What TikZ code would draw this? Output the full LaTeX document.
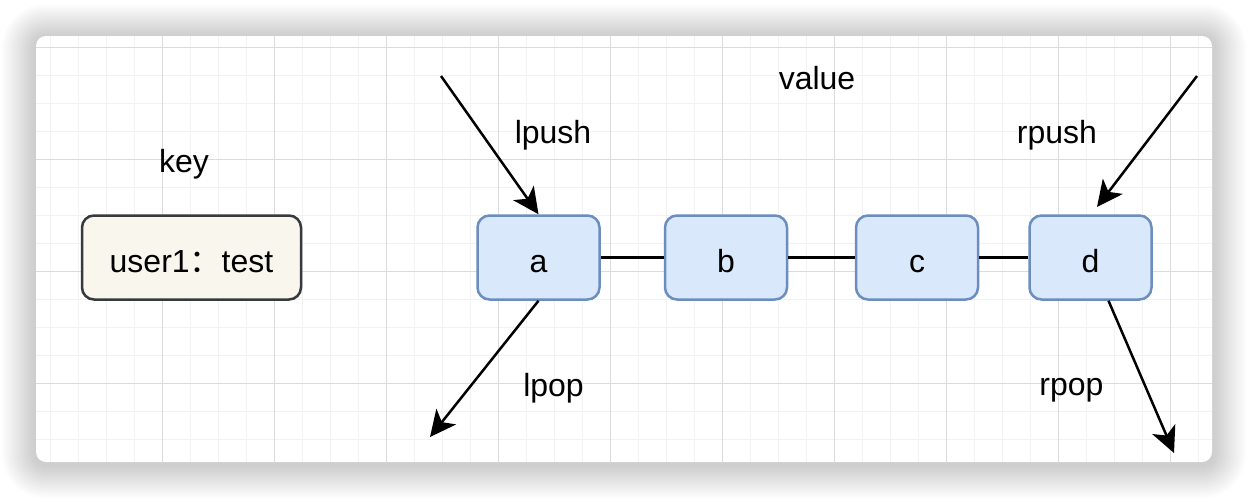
\documentclass[tikz,border=0pt]{standalone}
\usepackage{fontspec}
\setmainfont{Liberation Sans}
\newfontfamily\cjk{Noto Sans CJK SC}
\usepackage{xcolor}
\usetikzlibrary{arrows.meta,calc}
\definecolor{gridminor}{HTML}{F2F2F2}
\definecolor{gridmajor}{HTML}{DCDCDC}
\definecolor{keyfill}{HTML}{F9F7ED}
\definecolor{keyline}{HTML}{36393D}
\definecolor{valfill}{HTML}{DAE8FC}
\definecolor{valline}{HTML}{6C8EBF}
\tikzset{
  card/.style={fill=white, rounded corners=10pt},
  minor/.style={draw=gridminor, line width=1pt},
  major/.style={draw=gridmajor, line width=1pt},
  keybox/.style={draw=keyline, fill=keyfill, line width=2.5pt, rounded corners=12pt,
    minimum width=219pt, minimum height=84pt, text height=29pt, text depth=0pt},
  valbox/.style={draw=valline, fill=valfill, line width=2.5pt, rounded corners=12pt,
    minimum width=122pt, minimum height=84pt, text height=29pt, text depth=0pt},
  link/.style={draw=black, line width=2.5pt},
  arr/.style={draw=black, line width=2.5pt, -{Stealth[length=26pt,width=25pt,inset=7pt]}},
  lab/.style={text=black, font=\fontsize{32}{38}\selectfont},
}

\begin{document}
\begin{tikzpicture}[x=1pt,y=-1pt]
  \useasboundingbox (0,0) rectangle (1248,498);

  % soft shadow of the card
  \foreach \i [evaluate=\i as \r using 10+2*\i] in {1,...,17}
    \fill[black, opacity=0.013, rounded corners=\r pt]
      ({36-2*\i},{38-2*\i}) rectangle ({1212+2*\i},{464+2*\i});
  \fill[card] (36,36) rectangle (1212,462);

  % grid
  \begin{scope}
    \clip[rounded corners=10pt] (36,36) rectangle (1212,462);
    \foreach \x in {50,78,...,1198} \draw[minor] (\x,36) -- (\x,462);
    \foreach \y in {47,75,...,439} \draw[minor] (36,\y) -- (1212,\y);
    \foreach \x in {162,274,...,1170} \draw[major] (\x,36) -- (\x,462);
    \foreach \y in {47,159,...,383} \draw[major] (36,\y) -- (1212,\y);
  \end{scope}

  % key
  \node[lab] (keylab) at (184,164) {key};
  \node[keybox,lab] (user) at (191.5,257.5) {user1{\cjk ：}test};

  % value list
  \node[lab] (vallab) at (817,78) {value};
  \node[valbox,lab] (a) at (538.5,257.5) {a};
  \node[valbox,lab] (b) at (726,257.5) {b};
  \node[valbox,lab] (c) at (917,257.5) {c};
  \node[valbox,lab] (d) at (1090.5,257.5) {d};
  \draw[link] (a) -- (b);
  \draw[link] (b) -- (c);
  \draw[link] (c) -- (d);

  % push / pop
  \coordinate (lpushin) at (441,76);
  \coordinate (rpushin) at (1197,76);
  \coordinate (rpushend) at (1097,207);
  \coordinate (lpopout) at (430,437);
  \coordinate (rpopout) at (1174,453);
  \draw[arr] (lpushin) -- (a.north);
  \draw[arr] (rpushin) -- (rpushend);
  \draw[arr] (a.south) -- (lpopout);
  \draw[arr] ([xshift=18pt]d.south) -- (rpopout);

  \node[lab] (lpush) at (553,135) {lpush};
  \node[lab] (rpush) at (1057,135) {rpush};
  \node[lab] (lpop) at (553.5,388) {lpop};
  \node[lab] (rpop) at (1071.5,390) {rpop};
\end{tikzpicture}
\end{document}
